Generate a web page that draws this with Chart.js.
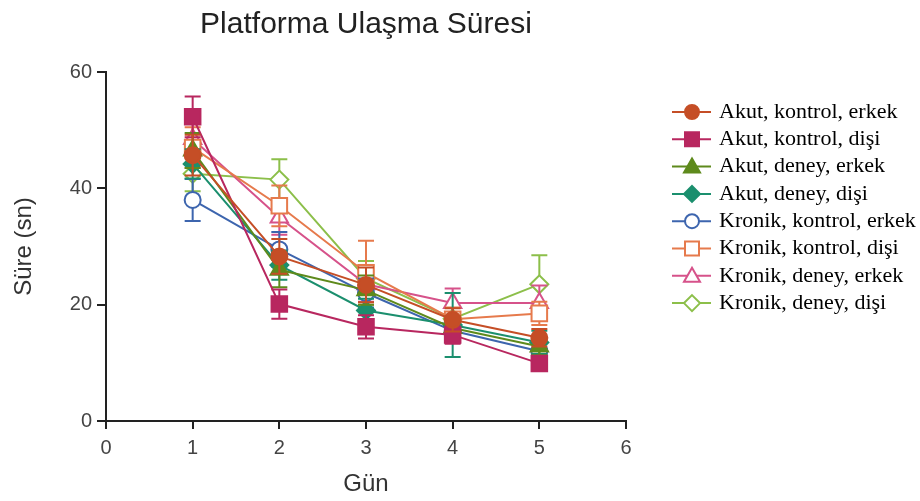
<!DOCTYPE html>
<html>
<head>
<meta charset="utf-8">
<script src="https://cdn.jsdelivr.net/npm/chart.js@4.4.0/dist/chart.umd.min.js"></script>
<style>
  html, body { margin: 0; padding: 0; background: #fff; }
  #wrap { width: 920px; height: 501px; }
</style>
</head>
<body>
<div id="wrap"><canvas id="myChart"></canvas></div>
<script>
// Günler (x ekseni)
const days = [1, 2, 3, 4, 5];
const xTicks = [0, 1, 2, 3, 4, 5, 6];
const yTicks = [0, 20, 40, 60];

// Gruplar
const groupNames = [
    'Akut, kontrol, erkek',
    'Akut, kontrol, dişi',
    'Akut, deney, erkek',
    'Akut, deney, dişi',
    'Kronik, kontrol, erkek',
    'Kronik, kontrol, dişi',
    'Kronik, deney, erkek',
    'Kronik, deney, dişi'
];

// Ortalama süreler (sn)
const akutKontrolErkek   = [45.7, 28.3, 23.4, 17.4, 14.3];
const akutKontrolDisi    = [52.3, 20.1, 16.2, 14.8, 9.9];
const akutDeneyErkek     = [46.5, 26.0, 22.5, 16.0, 12.8];
const akutDeneyDisi      = [44.2, 26.8, 19.0, 16.5, 13.5];
const kronikKontrolErkek = [38.0, 29.5, 22.0, 15.5, 12.0];
const kronikKontrolDisi  = [47.0, 37.0, 25.5, 17.5, 18.5];
const kronikDeneyErkek   = [48.5, 35.0, 23.5, 20.3, 20.3];
const kronikDeneyDisi    = [42.5, 41.5, 24.5, 17.6, 23.5];

// Hata çubukları (± SEM)
const errAkutKontrolErkek   = [3.5, 3.0, 3.0, 2.0, 1.5];
const errAkutKontrolDisi    = [3.5, 2.5, 2.0, 1.5, 1.0];
const errAkutDeneyErkek     = [3.0, 3.0, 2.5, 2.0, 1.5];
const errAkutDeneyDisi      = [2.5, 2.5, 2.0, 5.5, 2.0];
const errKronikKontrolErkek = [3.6, 3.0, 2.5, 2.0, 2.0];
const errKronikKontrolDisi  = [3.5, 3.5, 5.5, 2.0, 2.0];
const errKronikDeneyErkek   = [3.0, 3.0, 3.0, 2.5, 3.0];
const errKronikDeneyDisi    = [3.0, 3.5, 3.0, 2.0, 5.0];

const values = [akutKontrolErkek, akutKontrolDisi, akutDeneyErkek, akutDeneyDisi,
                kronikKontrolErkek, kronikKontrolDisi, kronikDeneyErkek, kronikDeneyDisi];
const errors = [errAkutKontrolErkek, errAkutKontrolDisi, errAkutDeneyErkek, errAkutDeneyDisi,
                errKronikKontrolErkek, errKronikKontrolDisi, errKronikDeneyErkek, errKronikDeneyDisi];

const colors = ['#c54e26', '#b8275f', '#5e8a1c', '#1b8f6e', '#3d65ae', '#e67a4c', '#d6528a', '#8cbf4a'];
const shapes = ['circle', 'rect', 'triangle', 'rectRot', 'circle', 'rect', 'triangle', 'rectRot'];
const filled = [true, true, true, true, false, false, false, false];
const sizes  = { circle: 8, rect: 11, triangle: 10, rectRot: 9 };

const datasets = groupNames.map((name, i) => ({
    label: name,
    data: days.map((d, j) => ({ x: d, y: values[i][j] })),
    errors: errors[i],
    borderColor: colors[i],
    backgroundColor: colors[i],
    pointStyle: shapes[i],
    pointRadius: sizes[shapes[i]],
    pointBorderColor: colors[i],
    pointBackgroundColor: filled[i] ? colors[i] : '#ffffff',
    pointBorderWidth: 2,
    borderWidth: 2,
    tension: 0,
    showLine: true
}));

// Hata çubukları
const errorBars = {
    id: 'errorBars',
    beforeDatasetDraw(chart, args) {
        const ds = chart.data.datasets[args.index];
        const meta = args.meta;
        const y = chart.scales.y;
        const c = chart.ctx;
        c.save();
        c.strokeStyle = ds.borderColor;
        c.lineWidth = 2;
        meta.data.forEach((pt, j) => {
            const v = ds.data[j].y, e = ds.errors[j];
            const top = y.getPixelForValue(v + e), bot = y.getPixelForValue(v - e);
            c.beginPath();
            c.moveTo(pt.x, top); c.lineTo(pt.x, bot);
            c.moveTo(pt.x - 8, top); c.lineTo(pt.x + 8, top);
            c.moveTo(pt.x - 8, bot); c.lineTo(pt.x + 8, bot);
            c.stroke();
        });
        c.restore();
    }
};

function drawMarker(c, shape, x, y, color, fill) {
    c.beginPath();
    if (shape === 'circle') {
        c.arc(x, y, 7, 0, Math.PI * 2);
    } else if (shape === 'rect') {
        c.rect(x - 7, y - 7, 14, 14);
    } else if (shape === 'triangle') {
        c.moveTo(x, y - 8); c.lineTo(x + 8, y + 6); c.lineTo(x - 8, y + 6); c.closePath();
    } else {
        c.moveTo(x, y - 8); c.lineTo(x + 8, y); c.lineTo(x, y + 8); c.lineTo(x - 8, y); c.closePath();
    }
    c.fillStyle = fill ? color : '#ffffff';
    c.fill();
    c.strokeStyle = color;
    c.lineWidth = 2;
    c.stroke();
}

// Sağdaki açıklama
const sideLegend = {
    id: 'sideLegend',
    afterDraw(chart) {
        const c = chart.ctx;
        c.save();
        c.font = '22px "Liberation Serif", "Times New Roman", serif';
        c.textBaseline = 'middle';
        c.textAlign = 'left';
        groupNames.forEach((name, i) => {
            const y = 112 + i * 27.3;
            c.strokeStyle = colors[i];
            c.lineWidth = 2;
            c.beginPath(); c.moveTo(672, y); c.lineTo(711, y); c.stroke();
            drawMarker(c, shapes[i], 692, y, colors[i], filled[i]);
            c.fillStyle = '#000';
            c.fillText(name, 719, y);
        });
        c.restore();
    }
};

const config = {
    type: 'scatter',
    data: { datasets: datasets },
    options: {
        responsive: true,
        maintainAspectRatio: false,
        animation: false,
        layout: { padding: { left: 0, right: 294, top: 0, bottom: 0 } },
        plugins: {
            legend: { display: false },
            tooltip: { enabled: false },
            title: {
                display: true,
                text: 'Platforma Ulaşma Süresi',
                fullSize: false,
                color: '#222',
                font: { size: 30, family: 'Liberation Sans, Arial, sans-serif', weight: 'normal' },
                padding: { top: 7, bottom: 29 }
            }
        },
        scales: {
            x: {
                type: 'linear',
                min: 0, max: 6,
                afterBuildTicks: (s) => { s.ticks = xTicks.map(v => ({ value: v })); },
                afterFit: (s) => { s.height = 80; },
                grid: { display: true, drawOnChartArea: false, drawTicks: true, tickLength: 8, color: '#222', lineWidth: 2 },
                border: { display: true, color: '#222', width: 2 },
                ticks: { color: '#444', padding: 7, font: { size: 20, family: 'Liberation Sans, Arial, sans-serif' } },
                title: { display: true, text: 'Gün', color: '#333', padding: { top: 0, bottom: 2 },
                         font: { size: 24, family: 'Liberation Sans, Arial, sans-serif' } }
            },
            y: {
                type: 'linear',
                min: 0, max: 60,
                afterBuildTicks: (s) => { s.ticks = yTicks.map(v => ({ value: v })); },
                afterFit: (s) => { s.width = 106; },
                grid: { display: true, drawOnChartArea: false, drawTicks: true, tickLength: 9, color: '#222', lineWidth: 2 },
                border: { display: true, color: '#222', width: 2 },
                ticks: { color: '#444', padding: 5, font: { size: 20, family: 'Liberation Sans, Arial, sans-serif' } },
                title: { display: true, text: 'Süre (sn)', color: '#333', padding: { top: 10, bottom: 4 },
                         font: { size: 24, family: 'Liberation Sans, Arial, sans-serif' } }
            }
        }
    },
    plugins: [errorBars, sideLegend]
};

const ctx = document.getElementById('myChart').getContext('2d');
new Chart(ctx, config);
</script>
</body>
</html>
